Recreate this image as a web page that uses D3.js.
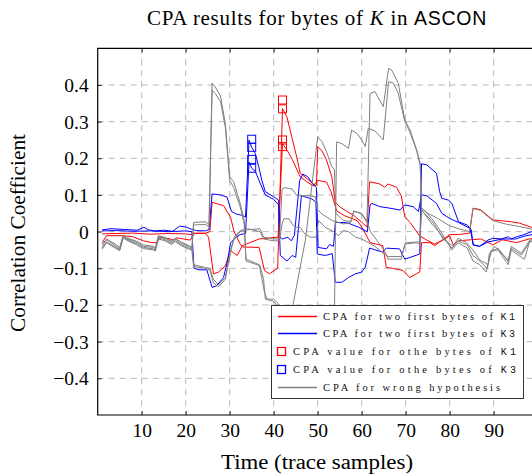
<!DOCTYPE html>
<html><head><meta charset="utf-8">
<script src="https://cdn.jsdelivr.net/npm/d3@7"></script>
<style>body{margin:0;background:#fff}svg{display:block}</style>
</head><body><script>
// ---------- data ----------
const xTicks = [10, 20, 30, 40, 50, 60, 70, 80, 90];
const yTicks = [-0.4, -0.3, -0.2, -0.1, 0, 0.1, 0.2, 0.3, 0.4];

// CPA for two first bytes of K1 (red)
const redK1a = [[1,-0.006],[4,-0.005],[8,-0.004],[12,-0.007],[16,-0.005],[20,-0.006],[21,-0.008],[22,-0.004],[24.5,-0.005],[25.2,-0.015],[26.3,-0.115],[27.5,-0.11],[29,-0.093],[30.2,-0.052],[31.7,-0.065],[32.9,-0.038],[36.7,-0.02],[41,-0.015],[42,0.24],[43,0.223],[44.1,0.2],[46,0.15],[47.5,0.136],[49,0.125],[50,0.14],[52,0.135],[53,0.11],[54.3,0.057],[56,0.044],[59,0.03],[60.4,0.005],[61.9,-0.03],[64.8,-0.038],[65.6,-0.097],[67,-0.1],[69.4,-0.106],[70.9,-0.125],[72.4,-0.115],[73.2,-0.11],[73.6,-0.03],[75.5,-0.03],[76.6,-0.038],[77.7,-0.028],[80,-0.012],[80.8,-0.036],[82,-0.025],[85,-0.022],[87,-0.02],[88,-0.025],[89.8,-0.036],[92,-0.022],[95.2,-0.03],[98,-0.02],[100,-0.018]];
const redK1b = [[1,-0.03],[2,-0.011],[5.8,-0.011],[8,-0.014],[10.4,-0.025],[12.3,-0.03],[13.4,-0.03],[14.2,-0.015],[16.5,-0.02],[17.2,-0.023],[18,-0.017],[19.5,-0.02],[21,-0.023],[22,-0.005],[24.5,-0.004],[25.5,0.0],[26,0.08],[28.6,0.071],[30.2,0.039],[31,0.0],[32.4,-0.034],[33,-0.042],[36.7,-0.043],[37.9,-0.106],[39,-0.115],[40.9,-0.1],[42,0.336],[43,0.313],[44.1,0.259],[45.3,0.2],[46,0.16],[47.5,0.145],[49,0.13],[49.7,0.125],[50,0.232],[51,0.22],[52,0.195],[53.2,0.15],[54,0.08],[55,0.068],[56.6,0.055],[58.1,0.045],[60.4,0.022],[61.2,0.012],[61.8,0.136],[64.1,0.13],[65.2,0.121],[66,0.13],[67.9,0.121],[69,0.098],[69.8,0.04],[71,0.025],[73.2,-0.012],[75.1,-0.025],[76.6,-0.034],[78.1,-0.025],[80,-0.008],[82,-0.008],[84.5,-0.004],[85.3,0.064],[87,0.06],[89.8,0.032],[94,0.027],[95.9,0.023],[100,0.006]];

// CPA for two first bytes of K3 (blue)
const blueK3a = [[1,0.005],[3,0.008],[6,0.006],[9,0.004],[10.5,0.012],[11.5,0.005],[13,0.002],[15,0.004],[17,0.001],[18.6,0.015],[20,0.013],[21.4,0.006],[22.5,0.003],[24.5,0.002],[25.3,0.006],[26,0.103],[28,0.1],[29.4,0.094],[30.4,0.055],[31.5,0.048],[33,0.044],[33.6,0.04],[34.4,0.25],[35,0.23],[35.8,0.214],[36.6,0.177],[37.3,0.14],[38.1,0.109],[40,0.095],[41.1,0.086],[41.4,-0.015],[42,-0.02],[43.2,-0.015],[44,-0.025],[44.7,-0.01],[45.9,0.139],[46.6,0.157],[47.7,0.15],[48.9,0.13],[49.7,0.12],[50.1,-0.043],[52,-0.047],[52.7,-0.035],[53.6,-0.04],[54,0.025],[56.3,0.025],[57.4,0.021],[59.3,0.012],[60.8,0.003],[61.3,0.0],[61.9,0.073],[62.3,0.077],[64.2,0.068],[66.4,0.064],[68.7,0.059],[69.8,0.073],[71.7,0.068],[72.9,0.055],[73.6,0.1],[74.8,0.098],[77,0.077],[78.2,0.05],[80,0.036],[82,0.025],[84.6,0.009],[85.4,-0.036],[86.8,-0.04],[88.7,-0.028],[90,-0.025],[92,-0.02],[95,-0.02],[97,-0.012],[100,-0.005]];
const blueK3b = [[1,0.002],[4,0.003],[8,0.001],[12,0.002],[16,0.0],[20,0.002],[21.4,0.0],[21.9,-0.1],[23,-0.104],[24.8,-0.104],[26,-0.152],[27,-0.148],[28.6,-0.125],[29.5,-0.08],[30.2,-0.03],[31.5,-0.015],[32.4,-0.008],[33.6,-0.005],[34.4,0.19],[35,0.173],[35.8,0.165],[37,0.13],[38.1,0.1],[40,0.088],[41.1,0.073],[41.5,-0.065],[43,-0.08],[44.2,-0.065],[45,-0.07],[46.3,0.098],[48.7,0.089],[49.6,0.08],[49.9,-0.061],[51.7,-0.065],[53.3,-0.06],[54,-0.138],[55.5,-0.138],[57,-0.125],[58.6,-0.115],[60,-0.11],[60.8,-0.097],[61.8,-0.045],[64.8,-0.056],[65.6,-0.045],[68.6,-0.047],[69.8,-0.075],[73.2,-0.061],[73.6,0.185],[74.8,0.182],[77,0.159],[77.7,0.11],[78.2,0.091],[79.7,0.086],[80.5,0.077],[82,0.027],[84,0.018],[84.9,0.005],[85.3,-0.036],[86.8,-0.04],[88.7,-0.023],[89.8,-0.018],[91.7,-0.02],[93.3,-0.014],[94,-0.02],[95.2,-0.014],[96.7,-0.009],[98.6,0.0],[100,0.003]];

// CPA value for other bytes (squares)
const k1SquareX = 42;
const k1SquareValues = [0.359, 0.335, 0.25, 0.232];
const k3SquareX = 35;
const k3SquareValues = [0.252, 0.23, 0.197, 0.173];

// CPA for wrong hypothesis (gray)
const grayWrong1 = [[1,-0.04],[2,-0.022],[4,-0.038],[5,-0.047],[5.8,-0.011],[6.5,-0.018],[9,-0.03],[10.4,-0.04],[12.7,-0.043],[13.1,-0.047],[13.8,-0.013],[15.3,-0.018],[16.8,-0.028],[17.6,-0.02],[18.8,-0.03],[20.6,-0.04],[21.4,-0.045],[21.8,0.025],[24.4,0.027],[25.3,0.02],[26,0.405],[26.7,0.395],[27.9,0.37],[29,0.295],[30,0.15],[30.9,0.136],[32.4,0.077],[33.3,0.03],[33.7,-0.075],[36.7,-0.09],[37.9,-0.165],[38.5,-0.184],[40,-0.184],[41.1,-0.197],[43,-0.23],[46,-0.26],[52,-0.25],[53.8,-0.23],[54.3,0.245],[55.5,0.24],[57,0.227],[57.7,0.277],[58.9,0.268],[60,0.25],[60.8,0.232],[61.5,0.282],[63,0.275],[64.9,0.25],[66.1,0.409],[67.2,0.405],[68.3,0.377],[69.8,0.3],[71,0.27],[72.5,0.22],[73.3,0.18],[73.6,0.06],[74.5,0.045],[76,0.02],[77.5,0.0],[78.5,-0.02],[80.8,-0.04],[81.9,-0.018],[83.8,-0.03],[85.3,-0.05],[86.8,-0.077],[88.7,-0.09],[89,-0.06],[90.2,-0.04],[93.3,-0.077],[94,-0.04],[96.3,-0.059],[98.2,-0.023],[100,-0.02]];
const grayWrong2 = [[1,-0.045],[2,-0.028],[4,-0.042],[5,-0.05],[5.8,-0.014],[6.5,-0.02],[9,-0.034],[10.4,-0.043],[12.7,-0.047],[13.1,-0.05],[13.8,-0.017],[15.3,-0.022],[16.8,-0.032],[17.6,-0.024],[18.8,-0.034],[20.6,-0.044],[21.4,-0.048],[21.8,0.018],[24.4,0.02],[25.3,0.014],[26,0.386],[26.7,0.377],[27.9,0.355],[29,0.286],[30,0.14],[30.9,0.12],[32.4,0.067],[33.3,0.02],[33.7,-0.08],[36.9,-0.093],[37.7,-0.13],[38.1,-0.184],[40,-0.19],[41.1,-0.206],[43.4,-0.21],[44.3,-0.205],[47.2,-0.023],[50,0.259],[51,0.245],[52,0.218],[53.2,0.177],[53.8,0.17],[54.1,0.05],[55.9,0.03],[57.5,0.028],[58.2,0.055],[60,0.05],[61.2,0.028],[62,0.0],[65.2,-0.052],[66,-0.075],[69,-0.075],[69.8,-0.034],[72.4,-0.03],[73.2,-0.035],[73.6,0.065],[76,0.035],[78,0.0],[80.5,-0.05],[81.9,-0.03],[84,-0.045],[85.3,-0.08],[86.8,-0.09],[88.3,-0.11],[89.5,-0.052],[91,-0.05],[93.3,-0.09],[94,-0.05],[96.3,-0.07],[97,-0.075],[98.2,-0.025],[100,-0.03]];
const grayWrong3 = [[1,-0.035],[2,-0.02],[4,-0.034],[5,-0.043],[5.8,-0.009],[6.5,-0.016],[9,-0.027],[10.4,-0.036],[12.7,-0.04],[13.1,-0.044],[13.8,-0.011],[15.3,-0.016],[16.8,-0.026],[17.6,-0.018],[18.8,-0.027],[20.6,-0.037],[21.4,-0.042],[21.8,-0.095],[24.5,-0.1],[25.5,-0.105],[26.3,-0.14],[27.5,-0.15],[29,-0.13],[30.3,-0.05],[31,-0.02],[32.4,0.0],[34,0.005],[36.9,0.008],[37.7,-0.015],[40,-0.02],[41.3,-0.02],[41.9,0.116],[42.5,0.12],[44.2,0.116],[45.3,0.098],[48.3,0.098],[49.5,0.095],[49.8,0.062],[51,0.048],[53.3,0.03],[55.9,0.021],[57.5,0.025],[58.2,0.057],[60,0.048],[61.2,0.025],[61.9,0.377],[63,0.382],[64.9,0.341],[66.1,0.445],[66.8,0.441],[68.3,0.405],[69.8,0.305],[71,0.277],[72.5,0.223],[73.3,0.186],[73.6,0.065],[75,0.05],[77,0.038],[80,0.016],[82,0.008],[84.5,0.0],[85.3,0.063],[87,0.058],[89.8,0.03],[93,0.02],[95.9,0.014],[100,0.003]];
const grayWrong4 = [[1,-0.048],[2,-0.03],[4,-0.045],[5,-0.052],[5.8,-0.017],[6.5,-0.023],[9,-0.037],[10.4,-0.046],[12.7,-0.05],[13.1,-0.053],[13.8,-0.02],[15.3,-0.025],[16.8,-0.035],[17.6,-0.027],[18.8,-0.037],[20.6,-0.047],[21.4,-0.05],[21.8,-0.09],[24.5,-0.098],[25.5,-0.1],[26.3,-0.13],[27.5,-0.145],[29,-0.125],[30.3,-0.045],[31,-0.015],[32.4,0.003],[34,0.008],[36.9,0.0],[37.7,-0.02],[40,-0.025],[41.3,-0.025],[41.9,0.021],[42.3,0.035],[43.5,0.035],[44.2,0.021],[44.9,0.012],[46,0.012],[47,-0.005],[48.3,-0.015],[49.6,-0.015],[50.2,0.03],[51.7,0.012],[53.6,0.0],[54.8,-0.011],[55.8,0.003],[57,0.0],[58.6,-0.015],[60,-0.02],[61.5,-0.03],[63,-0.04],[65,-0.06],[66,-0.068],[69,-0.068],[70,-0.03],[73.2,-0.028],[73.6,0.058],[76,0.028],[78,-0.008],[80.5,-0.045],[81.9,-0.025],[84,-0.036],[85.3,-0.065],[87,-0.082],[88.5,-0.1],[89.3,-0.055],[91,-0.045],[93.3,-0.082],[94,-0.045],[96.3,-0.064],[98.2,-0.028],[100,-0.025]];

const legendLabels = [
  ["CPA for two first bytes of ", "K1"],
  ["CPA for two first bytes of ", "K3"],
  ["CPA value for othe bytes of ", "K1"],
  ["CPA value for othe bytes of ", "K3"],
  ["CPA for wrong hypothesis", ""]
];

// ---------- drawing ----------
const W = 532, H = 474;
const serif = "'Liberation Serif', 'Times New Roman', serif";
const mono = "'Liberation Mono', 'DejaVu Sans Mono', monospace";
const svg = d3.select("body").append("svg").attr("width", W).attr("height", H)
  .style("font-family", serif);

const x = d3.scaleLinear().domain([0, 100]).range([97.7, 537.7]);
const y = d3.scaleLinear().domain([-0.5, 0.5]).range([415, 48.3]);

const RED = "#ff0000", BLUE = "#0000ff", GRAY = "#808080";

svg.append("defs").append("clipPath").attr("id", "plotclip")
  .append("rect").attr("x", x(0)).attr("y", y(0.5))
  .attr("width", x(100) - x(0)).attr("height", y(-0.5) - y(0.5));

// grid
const grid = svg.append("g");
grid.selectAll("line.gx").data(xTicks).join("line")
  .attr("x1", d => x(d)).attr("x2", d => x(d))
  .attr("y1", y(0.5)).attr("y2", y(-0.5))
  .attr("stroke", "#b8b8b8").attr("stroke-width", 1).attr("stroke-dasharray", "6,5");
grid.selectAll("line.gy").data(yTicks).join("line")
  .attr("x1", x(0)).attr("x2", x(100))
  .attr("y1", d => y(d)).attr("y2", d => y(d))
  .attr("stroke", "#b8b8b8").attr("stroke-width", 1).attr("stroke-dasharray", "6,5");

// axes
const fmtY = d => d === 0 ? "0" : d3.format(".1f")(d);
const gx = svg.append("g").attr("transform", `translate(0,${y(-0.5)})`)
  .call(d3.axisBottom(x).tickValues(xTicks).tickSize(-4).tickFormat(d3.format("d")));
gx.select(".domain").remove();
gx.selectAll(".tick line").attr("stroke", "#000").attr("stroke-width", 0.8);
gx.selectAll(".tick text").attr("y", 22).attr("dy", null)
  .style("font-family", serif).style("font-size", "19.5px").attr("fill", "#000");

const gxt = svg.append("g").attr("transform", `translate(0,${y(0.5)})`)
  .call(d3.axisTop(x).tickValues(xTicks).tickSize(-4).tickFormat(""));
gxt.select(".domain").remove();
gxt.selectAll(".tick line").attr("stroke", "#000").attr("stroke-width", 0.8);

const gy = svg.append("g").attr("transform", `translate(${x(0)},0)`)
  .call(d3.axisLeft(y).tickValues(yTicks).tickSize(-4).tickFormat(fmtY));
gy.select(".domain").remove();
gy.selectAll(".tick line").attr("stroke", "#000").attr("stroke-width", 0.8);
gy.selectAll(".tick text").attr("x", -9).attr("dy", "0.34em")
  .style("font-family", serif).style("font-size", "19.5px").attr("fill", "#000");

// lines
const line = d3.line().x(d => x(d[0])).y(d => y(d[1]));
const plot = svg.append("g").attr("clip-path", "url(#plotclip)");
const series = [
  [redK1a, RED], [redK1b, RED], [blueK3a, BLUE], [blueK3b, BLUE]
];
series.forEach(([data, col]) => {
  plot.append("path").datum(data).attr("d", line)
    .attr("fill", "none").attr("stroke", col).attr("stroke-width", 1)
    .attr("stroke-linejoin", "round");
});
const sq = 8;
plot.selectAll("rect.k1").data(k1SquareValues).join("rect")
  .attr("x", x(k1SquareX) - sq / 2).attr("y", d => y(d) - sq / 2)
  .attr("width", sq).attr("height", sq)
  .attr("fill", "none").attr("stroke", RED).attr("stroke-width", 1);
plot.selectAll("rect.k3").data(k3SquareValues).join("rect")
  .attr("x", x(k3SquareX) - sq / 2).attr("y", d => y(d) - sq / 2)
  .attr("width", sq).attr("height", sq)
  .attr("fill", "none").attr("stroke", BLUE).attr("stroke-width", 1);
[grayWrong1, grayWrong2, grayWrong3, grayWrong4].forEach(data => {
  plot.append("path").datum(data).attr("d", line)
    .attr("fill", "none").attr("stroke", GRAY).attr("stroke-width", 1)
    .attr("stroke-linejoin", "round");
});

// frame (left, top, bottom; right edge is outside the window)
svg.append("path")
  .attr("d", `M${x(100)},${y(0.5)}H${x(0)}V${y(-0.5)}H${x(100)}`)
  .attr("fill", "none").attr("stroke", "#000").attr("stroke-width", 1.2);

// legend
const lg = svg.append("g");
lg.append("rect").attr("x", 271.5).attr("y", 305.5).attr("width", 252).attr("height", 93)
  .attr("fill", "#fff").attr("stroke", "#333").attr("stroke-width", 1);
const rowY = [316, 333, 351, 369, 387];
const kinds = ["line", "line", "square", "square", "line"];
const cols = [RED, BLUE, RED, BLUE, GRAY];
const textStart = [323, 323, 293, 293, 323];
const textEnd = [515, 515, 516, 516, 500];
legendLabels.forEach((lab, i) => {
  const yy = rowY[i];
  if (kinds[i] === "line") {
    lg.append("line").attr("x1", 278).attr("x2", 317).attr("y1", yy + 0.5).attr("y2", yy + 0.5)
      .attr("stroke", cols[i]).attr("stroke-width", 1.3);
  } else {
    lg.append("rect").attr("x", 277.5).attr("y", yy - 3.5).attr("width", 8).attr("height", 8)
      .attr("fill", "none").attr("stroke", cols[i]).attr("stroke-width", 1.3);
  }
  const t = lg.append("text").attr("x", textStart[i]).attr("y", yy + 4)
    .style("font-size", "10.5px").attr("fill", "#111")
    .attr("textLength", textEnd[i] - textStart[i]).attr("lengthAdjust", "spacing");
  t.append("tspan").text(lab[0]);
  if (lab[1]) t.append("tspan").style("font-family", mono).style("font-size", "10px").text(lab[1]);
});

// title
const title = svg.append("text").attr("x", 317).attr("y", 24.5).attr("text-anchor", "middle")
  .style("font-size", "21px").style("letter-spacing", "0.7px").attr("fill", "#000");
title.append("tspan").text("CPA results for bytes of ");
title.append("tspan").style("font-style", "italic").text("K");
title.append("tspan").text(" in ");
title.append("tspan").style("font-family", "'Liberation Sans', Arial, sans-serif").style("font-size", "19.5px").text("ASCON");

// axis labels
svg.append("text").attr("x", 317).attr("y", 469).attr("text-anchor", "middle")
  .style("font-size", "20px").attr("fill", "#000")
  .attr("textLength", 192).attr("lengthAdjust", "spacingAndGlyphs")
  .text("Time (trace samples)");
svg.append("text").attr("transform", "translate(25,233) rotate(-90)").attr("text-anchor", "middle")
  .style("font-size", "20px").attr("fill", "#000")
  .attr("textLength", 198).attr("lengthAdjust", "spacingAndGlyphs")
  .text("Correlation Coefficient");
</script></body></html>
